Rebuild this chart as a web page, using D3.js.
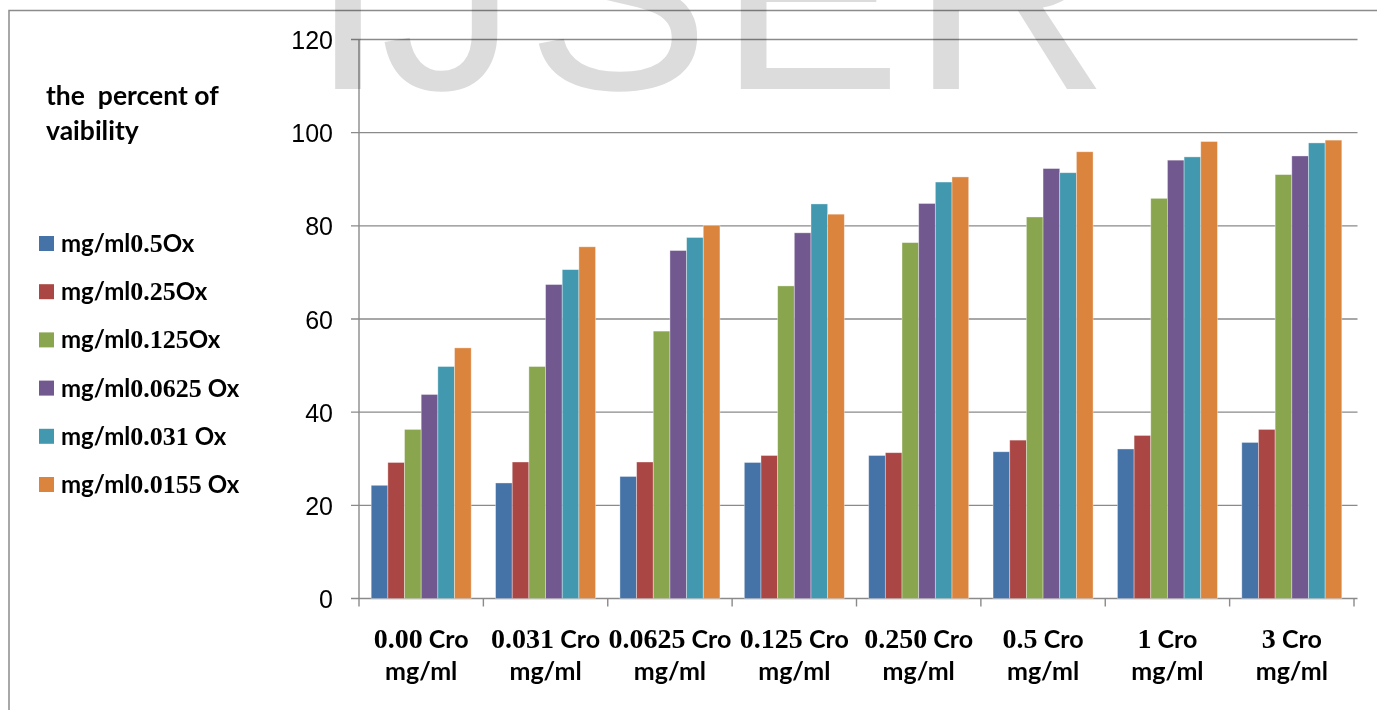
<!DOCTYPE html>
<html>
<head>
<meta charset="utf-8">
<script src="https://cdn.jsdelivr.net/npm/d3@7"></script>
<style>
  html, body { margin: 0; padding: 0; background: #ffffff; }
  svg { display: block; }
</style>
</head>
<body>
<svg id="chart" width="1377" height="710"></svg>
<script>
// Crocin doses on the x axis
const categories = [
  "0.00 Cro mg/ml", "0.031 Cro mg/ml", "0.0625 Cro mg/ml", "0.125 Cro mg/ml",
  "0.250 Cro mg/ml", "0.5 Cro mg/ml", "1 Cro mg/ml", "3 Cro mg/ml"
];

// Oxaliplatin series (legend order)
const seriesNames = [
  "mg/ml0.5Ox", "mg/ml0.25Ox", "mg/ml0.125Ox",
  "mg/ml0.0625 Ox", "mg/ml0.031 Ox", "mg/ml0.0155 Ox"
];

// Percent viability per series, one value per crocin dose
const ox05    = [24.3, 24.8, 26.2, 29.2, 30.7, 31.5, 32.1, 33.5];
const ox025   = [29.2, 29.3, 29.3, 30.7, 31.3, 34.0, 35.0, 36.3];
const ox0125  = [36.3, 49.8, 57.4, 67.1, 76.4, 81.9, 85.9, 91.0];
const ox00625 = [43.8, 67.4, 74.7, 78.5, 84.8, 92.3, 94.1, 95.0];
const ox0031  = [49.8, 70.6, 77.5, 84.7, 89.4, 91.4, 94.8, 97.8];
const ox00155 = [53.8, 75.5, 80.1, 82.5, 90.5, 95.9, 98.1, 98.4];

const yTicks = [0, 20, 40, 60, 80, 100, 120];
const colors = ["#4572A7", "#AA4643", "#89A54E", "#71588F", "#4198AF", "#DB843D"];

const seriesValues = [ox05, ox025, ox0125, ox00625, ox0031, ox00155];

const svg = d3.select("#chart");
const letterFont = "Lato, 'Open Sans', sans-serif";
const digitFont = "'Liberation Serif', 'DejaVu Serif', serif";
const axisColor = "#8a8a8a";

// outer frame
svg.append("rect")
  .attr("x", 9).attr("y", 10.5)
  .attr("width", 1400).attr("height", 760)
  .attr("fill", "none").attr("stroke", "#8c8c8c").attr("stroke-width", 1.5);

// scales
const plotLeft = 359, plotRight = 1354, plotTop = 39.5, plotBottom = 598.5;
const x0 = d3.scaleBand().domain(categories).range([plotLeft, plotRight])
  .paddingInner(0.196).paddingOuter(0.098);
const x1 = d3.scaleBand().domain(seriesNames).range([0, x0.bandwidth()]);
const y = d3.scaleLinear().domain([0, 120]).range([plotBottom, plotTop]);

// horizontal gridlines (with short tick stubs left of the axis)
svg.append("g").selectAll("line").data(yTicks).join("line")
  .attr("x1", plotLeft - 8).attr("x2", 1357.5)
  .attr("y1", d => y(d)).attr("y2", d => y(d))
  .attr("stroke", axisColor).attr("stroke-width", 1.4);

// y axis labels
const yAxis = d3.axisLeft(y).tickValues(yTicks).tickSize(0).tickPadding(26);
const yg = svg.append("g").attr("transform", `translate(${plotLeft},0)`).call(yAxis);
yg.select(".domain").remove();
yg.selectAll("text")
  .attr("font-family", "'Liberation Sans', Arial, sans-serif")
  .attr("font-size", 25).attr("fill", "#000").attr("dy", "0.36em");

// y axis line
svg.append("line")
  .attr("x1", plotLeft).attr("x2", plotLeft)
  .attr("y1", y(120)).attr("y2", y(0))
  .attr("stroke", axisColor).attr("stroke-width", 1.4);

// category boundary ticks on the x axis
const boundaries = d3.range(categories.length + 1).map(i => plotLeft + i * x0.step());
svg.append("g").selectAll("line").data(boundaries).join("line")
  .attr("x1", d => d).attr("x2", d => d)
  .attr("y1", plotBottom).attr("y2", plotBottom + 8)
  .attr("stroke", axisColor).attr("stroke-width", 1.4);

// bars
const groups = svg.append("g").selectAll("g").data(categories).join("g")
  .attr("transform", d => `translate(${x0(d)},0)`);
groups.selectAll("rect")
  .data((c, ci) => seriesNames.map((s, si) => ({ s, si, v: seriesValues[si][ci] })))
  .join("rect")
  .attr("x", d => x1(d.s))
  .attr("width", x1.bandwidth())
  .attr("y", d => y(d.v))
  .attr("height", d => y(0) - y(d.v))
  .attr("fill", d => colors[d.si])
  .attr("stroke", "rgba(255,255,255,0.45)")
  .attr("stroke-width", 0.8);

// x axis category labels (two lines, mixed fonts)
const catRe = /^([\d.]+)( Cro) (mg\/ml)$/;
const xl = svg.append("g").selectAll("text").data(categories).join("text")
  .attr("x", d => x0(d) + x0.bandwidth() / 2)
  .attr("y", 648)
  .attr("text-anchor", "middle")
  .attr("font-weight", "bold")
  .attr("fill", "#000");
xl.each(function (d) {
  const m = d.match(catRe);
  const t = d3.select(this);
  t.append("tspan").attr("font-family", digitFont).attr("font-size", 28).text(m[1]);
  t.append("tspan").attr("font-family", letterFont).attr("font-size", 25).text(m[2]);
});
svg.append("g").selectAll("text").data(categories).join("text")
  .attr("x", d => x0(d) + x0.bandwidth() / 2)
  .attr("y", 680)
  .attr("text-anchor", "middle")
  .attr("font-weight", "bold")
  .attr("font-family", letterFont).attr("font-size", 25)
  .attr("fill", "#000")
  .text(d => d.match(catRe)[3]);

// axis title
const title = svg.append("text")
  .attr("font-family", letterFont).attr("font-weight", "bold")
  .attr("font-size", 26.5).attr("fill", "#000")
  .attr("xml:space", "preserve");
title.append("tspan").attr("x", 46).attr("y", 105).text("the  percent of");
title.append("tspan").attr("x", 46).attr("y", 140).text("vaibility");

// legend
const legRe = /^(mg\/ml)([\d.]+)(.*)$/;
const leg = svg.append("g").selectAll("g").data(seriesNames).join("g")
  .attr("transform", (d, i) => `translate(39,${243.5 + i * 48.2})`);
leg.append("rect")
  .attr("x", 0).attr("y", -7.5).attr("width", 15).attr("height", 15)
  .attr("fill", (d, i) => colors[i]);
leg.append("text")
  .attr("x", 22).attr("y", 8.5)
  .attr("font-weight", "bold").attr("fill", "#000")
  .attr("xml:space", "preserve")
  .each(function (d) {
    const m = d.match(legRe);
    const t = d3.select(this);
    t.append("tspan").attr("font-family", letterFont).attr("font-size", 24).text(m[1]);
    t.append("tspan").attr("font-family", digitFont).attr("font-size", 26).text(m[2]);
    t.append("tspan").attr("font-family", letterFont).attr("font-size", 24).text(m[3]);
  });

// publisher watermark, blended over the chart
const wmLetters = ["I", "J", "S", "E", "R"];
const wmCenters = [348, 449, 618, 810, 1010];
svg.append("g").style("mix-blend-mode", "multiply")
  .selectAll("text").data(wmLetters).join("text")
  .attr("x", (d, i) => wmCenters[i])
  .attr("y", 89)
  .attr("text-anchor", "middle")
  .attr("font-family", "'Liberation Sans', Arial, sans-serif")
  .attr("font-size", 275)
  .attr("fill", "#dcdcdc")
  .text(d => d);
</script>
</body>
</html>
